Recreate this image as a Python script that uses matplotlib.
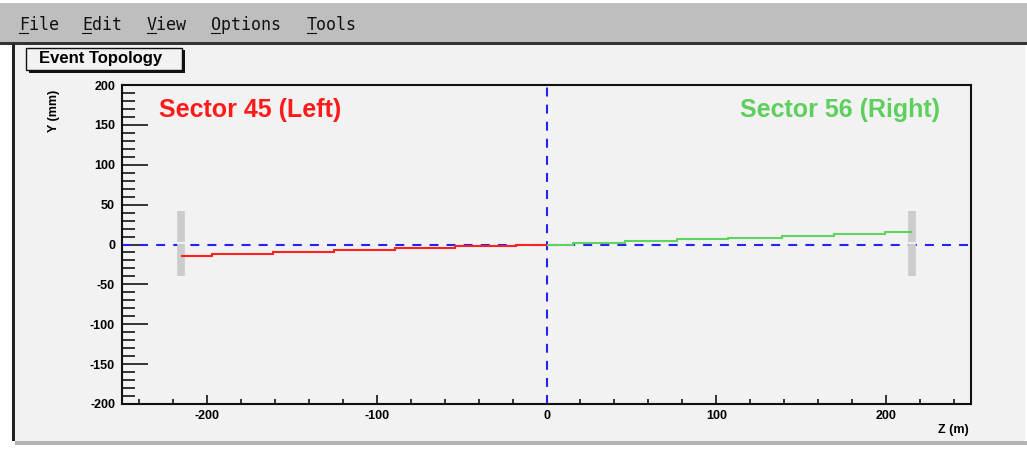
import matplotlib
matplotlib.use("Agg")
import matplotlib.pyplot as plt
from matplotlib.patches import Rectangle
from matplotlib.lines import Line2D

plt.rcParams['axes.unicode_minus'] = False

# data
left_edges = [-215, -197, -161, -125, -89.5, -54, -18, 0]
left_y = [-14, -12, -9.5, -7, -4.5, -2.5, -0.5]
right_edges = [0, 15.7, 46.2, 76.7, 107.1, 138.6, 169.1, 199.6, 215]
right_y = [0, 2.3, 4.2, 6.6, 8.6, 11.1, 13.3, 15.3]
detector_z = [-215, 215]
detector_lo = [-40, 3.5]
detector_hi = [0.6, 42]
menu_items = ["File", "Edit", "View", "Options", "Tools"]
menu_x = [19, 82, 147, 211, 307]

W, H = 1027, 449
fig = plt.figure(figsize=(W / 100, H / 100), dpi=100, facecolor="white")

def px_rect(x0, y0, x1, y1, color, z=0):
    fig.add_artist(Rectangle((x0 / W, 1 - y1 / H), (x1 - x0) / W, (y1 - y0) / H,
                             transform=fig.transFigure, facecolor=color,
                             edgecolor="none", zorder=z))

# window chrome
px_rect(0, 3, W, 42, "#bebebe")
px_rect(0, 42, W, 44.5, "#333333")
px_rect(15, 45, 1025, 441, "#f2f2f2")
px_rect(12, 44, 15, 441, "#222222")
px_rect(15, 441, W, 445, "#b4b4b4")

for word, x in zip(menu_items, menu_x):
    fig.text(x / W, 1 - 30 / H, word, family="DejaVu Sans Mono", fontsize=12,
             ha="left", va="baseline", color="#111111")
    fig.add_artist(Line2D([x / W, (x + 9) / W], [1 - 32.5 / H, 1 - 32.5 / H],
                          transform=fig.transFigure, color="#111111", lw=0.8))

# title box with shadow
px_rect(29, 50, 185, 73, "#111111", z=1)
fig.add_artist(Rectangle((26 / W, 1 - 70 / H), 156 / W, 22 / H, transform=fig.transFigure,
                         facecolor="#f2f2f2", edgecolor="#111111", lw=1, zorder=2))
fig.text(101 / W, 1 - 58.5 / H, "Event Topology", family="Liberation Sans",
         fontweight="bold", fontsize=12, ha="center", va="center", zorder=3)

ax = fig.add_axes([122 / W, 1 - 404 / H, 849 / W, 319 / H])
ax.set_facecolor("none")
ax.set_xlim(-250, 250)
ax.set_ylim(-200, 200)

dash = (0, (4.3, 3.9))
ax.axhline(0, color="#2323f5", lw=1.5, linestyle=dash, zorder=2)
ax.axvline(0, color="#2323f5", lw=1.5, linestyle=dash, zorder=2)

for z in detector_z:
    ax.vlines([z, z], detector_lo, detector_hi, color="#cccccc", lw=5.5, zorder=3)

ax.stairs(left_y, left_edges, color="#ff2020", lw=1.5, baseline=None, zorder=4)
ax.stairs(right_y, right_edges, color="#5fd35f", lw=1.5, baseline=None, zorder=4)

ax.text(-228, 169, "Sector 45 (Left)", color="#ff1a1a", family="Liberation Sans",
        fontweight="bold", fontsize=18, ha="left", va="center")
ax.text(232, 169, "Sector 56 (Right)", color="#5ccf5c", family="Liberation Sans",
        fontweight="bold", fontsize=18, ha="right", va="center")

ax.set_xticks([-200, -100, 0, 100, 200])
ax.set_xticks(range(-240, 250, 20), minor=True)
ax.set_yticks(range(-200, 201, 50))
ax.set_yticks(range(-200, 201, 10), minor=True)
ax.tick_params(axis="y", which="major", direction="in", length=18.7, width=1.1, pad=5)
ax.tick_params(axis="y", which="minor", direction="in", length=9.4, width=1.1)
ax.tick_params(axis="x", which="major", direction="in", length=6.5, width=1.1, pad=4)
ax.tick_params(axis="x", which="minor", direction="in", length=3.6, width=1.1)
for lab in ax.get_xticklabels() + ax.get_yticklabels():
    lab.set_family("Liberation Sans")
    lab.set_fontweight("bold")
    lab.set_fontsize(9)
for s in ax.spines.values():
    s.set_linewidth(1.5)
    s.set_color("#111111")

fig.text(54 / W, 1 - 111 / H, "Y (mm)", rotation=90, family="Liberation Sans",
         fontweight="bold", fontsize=9, ha="center", va="center")
fig.text(969 / W, 1 - 430 / H, "Z (m)", family="Liberation Sans",
         fontweight="bold", fontsize=9, ha="right", va="center")

fig.savefig("out.png", dpi=100, facecolor=fig.get_facecolor())
